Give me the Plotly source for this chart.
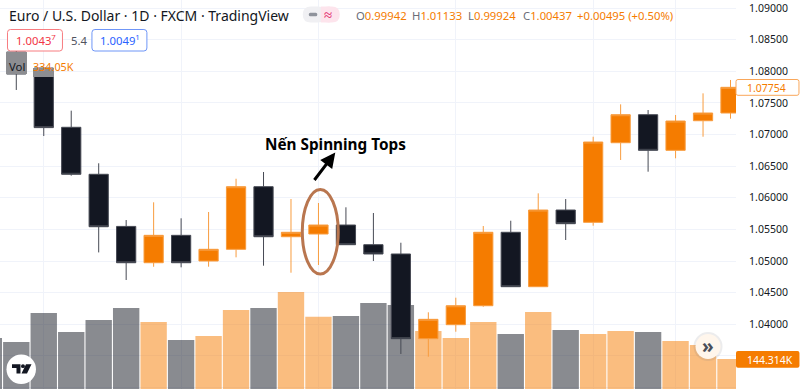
import plotly.graph_objects as go

# ---- data ----
candle_index = list(range(1, 28))
open_ = [1.08304, 1.08051, 1.07114, 1.06371, 1.05547, 1.04973, 1.05406, 1.05000, 1.05185, 1.06175, 1.05384, 1.05427, 1.05569, 1.05258, 1.05111, 1.03772, 1.03993, 1.04293, 1.05454, 1.04594, 1.05806, 1.05612, 1.06870, 1.07313, 1.06750, 1.07218, 1.07340]
high  = [1.08336, 1.08051, 1.07377, 1.06545, 1.05648, 1.05928, 1.05675, 1.05775, 1.06301, 1.06407, 1.05980, 1.05917, 1.05849, 1.05759, 1.05289, 1.04189, 1.04420, 1.05553, 1.05637, 1.06070, 1.05980, 1.06965, 1.07477, 1.07387, 1.07308, 1.07651, 1.07862]
low   = [1.07704, 1.06976, 1.06349, 1.05136, 1.04700, 1.04909, 1.04900, 1.04910, 1.05058, 1.04926, 1.04815, 1.04937, 1.05253, 1.05000, 1.03530, 1.03487, 1.03882, 1.04277, 1.04589, 1.04589, 1.05332, 1.05558, 1.06597, 1.06412, 1.06624, 1.06965, 1.07250]
close = [1.07956, 1.07109, 1.06371, 1.05542, 1.04973, 1.05406, 1.04973, 1.05185, 1.06175, 1.05384, 1.05454, 1.05569, 1.05258, 1.05111, 1.03772, 1.04078, 1.04293, 1.05454, 1.04594, 1.05806, 1.05590, 1.06881, 1.07313, 1.06750, 1.07213, 1.07340, 1.07746]

volume_index = list(range(0, 28))
volume_k = [245, 226, 366, 274, 332, 390, 322, 236, 255, 380, 390, 467, 347, 351, 414, 404, 279, 245, 322, 265, 370, 284, 265, 279, 274, 231, 212, 144.314]
volume_up = [0, 0, 0, 0, 0, 0, 1, 0, 1, 1, 0, 1, 1, 0, 0, 0, 1, 1, 1, 0, 1, 0, 1, 1, 0, 1, 1, 1]

price_ticks = [1.03, 1.035, 1.04, 1.045, 1.05, 1.055, 1.06, 1.065, 1.07, 1.075, 1.08, 1.085, 1.09]
price_tick_text = ["1.03000", "", "1.04000", "1.04500", "1.05000", "1.05500", "1.06000", "1.06500", "1.07000", "1.07500", "1.08000", "1.08500", "1.09000"]
time_grid = [2, 7, 12, 17, 22, 25]

# ---- look ----
W, H, PW, PH = 800, 391, 736.5, 389
ORANGE, DARK = "#f57c00", "#131722"
FONT = "Noto Sans"


def px(x):
    return x / PW


def py(y):
    return 1 - y / PH


def rrect(x0, y0, x1, y1, r):
    a, b, c, d = px(x0), py(y0), px(x1), py(y1)
    rx, ry = r / PW, r / PH
    return (f"M{a+rx},{b} L{c-rx},{b} Q{c},{b} {c},{b-ry} L{c},{d+ry} Q{c},{d} {c-rx},{d} "
            f"L{a+rx},{d} Q{a},{d} {a},{d+ry} L{a},{b-ry} Q{a},{b} {a+rx},{b} Z")


def poly(points):
    return "M" + " L".join(f"{px(x)},{py(y)}" for x, y in points) + " Z"


def path(d, fill, line="rgba(0,0,0,0)", width=1):
    return dict(type="path", xref="paper", yref="paper", path=d, fillcolor=fill,
                line=dict(color=line, width=width), layer="above")


def oval(x0, y0, x1, y1, fill="rgba(0,0,0,0)", line="rgba(0,0,0,0)", width=1):
    return dict(type="circle", xref="paper", yref="paper", x0=px(x0), x1=px(x1), y0=py(y1), y1=py(y0),
                fillcolor=fill, line=dict(color=line, width=width), layer="above")


def label(x, y, text, size=12, color=DARK, anchor="left", family=FONT):
    return dict(xref="paper", yref="paper", x=px(x), y=py(y), text=text, showarrow=False, xanchor=anchor,
                yanchor="middle", font=dict(family=family, size=size, color=color), borderpad=0)


fig = go.Figure()
fig.add_trace(go.Bar(
    x=volume_index, y=volume_k, yaxis="y", width=0.96,
    marker=dict(color=["rgba(245,124,0,0.5)" if u else "rgba(19,23,34,0.5)" for u in volume_up], line_width=0),
    showlegend=False, hoverinfo="skip"))
fig.add_trace(go.Candlestick(
    x=candle_index, open=open_, high=high, low=low, close=close, yaxis="y2", whiskerwidth=0,
    increasing=dict(fillcolor=ORANGE, line=dict(color="#f89c3e", width=1)),
    decreasing=dict(fillcolor=DARK, line=dict(color="#474a54", width=1)),
    showlegend=False))

shapes = [
    # header labels
    path(rrect(7.5, 29.5, 62.5, 51, 3), "#ffffff", "#f77c80"),
    path(rrect(92, 29.5, 147, 51, 3), "#ffffff", "#6f96f7"),
    path(rrect(303, 6.5, 326, 22.5, 8), "#f0f0f3"),
    path(rrect(321, 6.5, 340, 22.5, 8), "#fde4ec"),
    path(poly([(321, 6.5), (330, 6.5), (330, 22.5), (321, 22.5)]), "#fde4ec"),
    path(rrect(309, 12.8, 317.5, 16.2, 1.5), "#8f939c"),
    # volume caption boxes
    path(poly([(6, 52), (27, 52), (27, 74), (6, 74)]), "#8c8d91"),
    path(poly([(33, 68), (54, 68), (54, 77), (33, 77)]), "#8c8d91"),
    # spinning top ring
    oval(302.5, 189.5, 338.5, 274, line="#b9764f", width=3),
    # price labels
    path(rrect(736.5, 79.5, 799.5, 95.3, 2), "#ffffff", "#f9a75a"),
    path(rrect(736.5, 351, 800, 367.7, 2), ORANGE),
    # go-to-realtime button
    oval(694, 332, 723, 361, fill="rgba(120,120,130,0.14)"),
    oval(696, 334, 721, 359, fill="#fff6ec"),
    # logo
    oval(6.5, 354.5, 36, 384, fill="#ffffff"),
    path(poly([(12, 364.3), (20.5, 364.3), (20.5, 373.5), (16.5, 373.5), (16.5, 368), (12, 368)]), DARK),
    oval(21, 364.3, 25, 368, fill=DARK),
    path(poly([(26, 364.3), (31.5, 364.3), (27, 373.5), (21.5, 373.5)]), DARK),
    # strip below the pane hides the clipped bottom tick label
    dict(type="rect", xref="paper", yref="paper", x0=0, x1=W / PW, y0=py(PH + 0.6), y1=py(H + 1),
         fillcolor="#ffffff", line_width=0, layer="above"),
]

GREY = '<span style="color:#6a6d78">%s</span>'
annotations = [
    label(8, 15, "Euro / U.S. Dollar · 1D · FXCM · TradingView", 14),
    label(355, 16, GREY % "O" + "0.99942", 11.3, ORANGE),
    label(411, 16, GREY % "H" + "1.01133", 11.3, ORANGE),
    label(467, 16, GREY % "L" + "0.99924", 11.3, ORANGE),
    label(522, 16, GREY % "C" + "1.00437", 11.3, ORANGE),
    label(576.7, 16, "+0.00495 (+0.50%)", 11.3, ORANGE),
    label(15, 40.5, "1.0043<sup>7</sup>", 11.3, "#f23645"),
    label(70, 40.5, "5.4", 11.3, "#50535e"),
    label(99.5, 40.5, "1.0049<sup>1</sup>", 11.3, "#2962ff"),
    label(323.5, 14, "≈", 15, "#e0115f"),
    label(8.5, 66, "Vol", 11.3),
    label(32, 66, "334.05K", 10.8, ORANGE),
    label(264, 144, "<b>Nến Spinning Tops</b>", 15.3, "#000000"),
    label(746.5, 87.5, "1.07754", 10.5, ORANGE),
    label(746.5, 359.5, "144.314K", 10.5, "#ffffff"),
    label(708.5, 346, "<b>»</b>", 19, "#4a4e58", "center"),
    dict(xref="paper", yref="paper", x=px(335.5), y=py(152.5), axref="pixel", ayref="pixel", ax=-22, ay=29,
         text="", showarrow=True, arrowhead=2, arrowsize=1, arrowwidth=3, arrowcolor="#000000"),
]

fig.update_layout(
    width=W, height=H, autosize=False, margin=dict(l=0, r=W - PW, t=0, b=H - PH),
    paper_bgcolor="#ffffff", plot_bgcolor="#ffffff", showlegend=False, boxgap=0,
    shapes=shapes, annotations=annotations, hovermode=False,
    xaxis=dict(range=[0.407, 27.2], rangeslider_visible=False, tickvals=time_grid, showticklabels=False,
               ticks="", showgrid=True, gridcolor="#f0f3fa", gridwidth=1, zeroline=False, showline=False),
    yaxis=dict(range=[0, 389 * 4.81], visible=False, showgrid=False, zeroline=False, fixedrange=True),
    yaxis2=dict(range=[1.029765, 1.091265], overlaying="y", side="right", anchor="x", tickmode="array",
                tickvals=price_ticks, ticktext=price_tick_text,
                showgrid=True, gridcolor="#f0f3fa", gridwidth=1, zeroline=False, showline=False,
                ticks="outside", ticklen=10, tickcolor="rgba(0,0,0,0)",
                tickfont=dict(family=FONT, size=10.5, color=DARK)),
)
fig.write_html("out.html", config=dict(displayModeBar=False),
               post_script="document.body.style.margin='0';document.documentElement.style.overflow='hidden';")
